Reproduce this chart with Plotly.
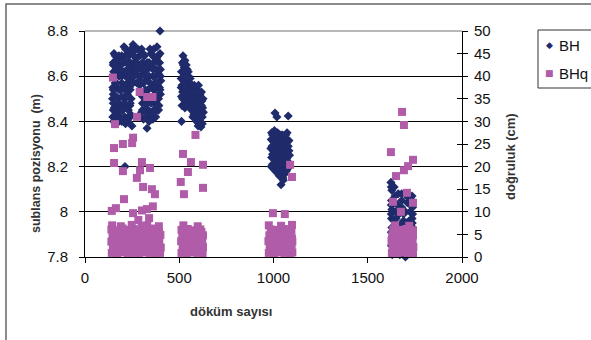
import plotly.graph_objects as go

# ---------------- data ----------------
# BH : sublans pozisyonu (m), left axis -- individually read points
bh_x = [
    398, 207, 154, 255, 382, 398, 308, 240, 270, 225, 290, 180, 165, 150, 147, 148, 146, 150, 148, 152,
    160, 180, 200, 215, 230, 249, 329, 310, 300, 345, 360, 380, 392, 400, 402, 400, 392, 372, 350, 330, 212,
    152, 160, 150, 155, 170, 175, 168, 175, 185, 195, 190, 188, 200, 210, 205, 210, 220, 228, 235, 225,
    222, 238, 243, 245, 250, 255, 240, 265, 275, 285, 295, 270, 300, 310, 320, 315, 305, 318, 330, 335,
    340, 350, 360, 355, 345, 365, 375, 385, 390, 378, 370, 395, 390, 160, 198, 172, 185, 245, 260, 290,
    325, 365, 380,
    520, 517, 527, 512, 532, 542, 510, 522, 540, 550, 510, 522, 538, 555, 512, 525, 540, 552, 565, 515,
    530, 548, 568, 582, 596, 610, 595, 582, 565, 578, 592, 608, 620, 626, 624, 615, 605, 592, 612, 622,
    628, 512, 615, 600, 572, 570, 588, 530,
    1008, 1018, 1078, 1072, 990, 1005, 1022, 1040, 1055, 988, 1000, 1018, 1035, 1058, 1075, 986, 1000,
    1015, 1032, 1050, 1068, 1082, 990, 1005, 1022, 1045, 1062, 1078, 1085, 988, 1002, 1018, 1040, 1058,
    1075, 1030, 1050, 1062, 1040, 1052,
    1623, 1628, 1645, 1662, 1700, 1735, 1626, 1640, 1658, 1680, 1710, 1730, 1628, 1648, 1666, 1700,
    1724, 1738, 1626, 1640, 1690, 1720, 1736, 1628, 1652, 1710, 1734, 1630, 1662, 1700, 1730, 1626,
    1642, 1690, 1720, 1736, 1630, 1670, 1700,
]
bh_y = [
    8.80, 8.73, 8.70, 8.74, 8.73, 8.70, 8.70, 8.71, 8.72, 8.70, 8.69, 8.69, 8.67, 8.65, 8.60, 8.55, 8.50, 8.45, 8.42, 8.40,
    8.39, 8.40, 8.41, 8.39, 8.42, 8.38, 8.37, 8.41, 8.44, 8.43, 8.41, 8.45, 8.47, 8.52, 8.58, 8.63, 8.66, 8.68, 8.70, 8.66, 8.20,
    8.62, 8.57, 8.52, 8.46, 8.44, 8.50, 8.55, 8.61, 8.65, 8.60, 8.54, 8.47, 8.45, 8.50, 8.56, 8.62, 8.66, 8.60, 8.55, 8.52,
    8.46, 8.47, 8.43, 8.50, 8.58, 8.64, 8.66, 8.62, 8.57, 8.60, 8.64, 8.68, 8.57, 8.62, 8.58, 8.52, 8.48, 8.45, 8.48, 8.54,
    8.60, 8.64, 8.60, 8.55, 8.50, 8.48, 8.52, 8.56, 8.61, 8.63, 8.57, 8.55, 8.50, 8.65, 8.68, 8.47, 8.42, 8.62, 8.66, 8.56,
    8.65, 8.66, 8.68,
    8.69, 8.66, 8.64, 8.62, 8.61, 8.63, 8.59, 8.58, 8.58, 8.60, 8.55, 8.54, 8.55, 8.56, 8.51, 8.50, 8.51, 8.52, 8.53, 8.47,
    8.46, 8.48, 8.50, 8.52, 8.54, 8.52, 8.49, 8.47, 8.45, 8.43, 8.45, 8.47, 8.49, 8.50, 8.46, 8.44, 8.42, 8.40, 8.40, 8.42,
    8.44, 8.40, 8.375, 8.38, 8.42, 8.56, 8.55, 8.67,
    8.437, 8.42, 8.424, 8.35, 8.35, 8.36, 8.35, 8.34, 8.33, 8.32, 8.31, 8.31, 8.30, 8.30, 8.31, 8.28, 8.27,
    8.28, 8.26, 8.27, 8.28, 8.27, 8.24, 8.23, 8.22, 8.23, 8.24, 8.22, 8.25, 8.20, 8.19, 8.20, 8.19, 8.20,
    8.19, 8.16, 8.15, 8.17, 8.12, 8.14,
    8.13, 8.095, 8.07, 8.08, 8.075, 8.07, 8.05, 8.04, 8.03, 8.05, 8.04, 8.03, 8.01, 8.00, 7.99, 8.00,
    8.00, 7.99, 7.97, 7.96, 7.96, 7.96, 7.95, 7.93, 7.92, 7.92, 7.91, 7.89, 7.88, 7.87, 7.88, 7.85,
    7.84, 7.83, 7.84, 7.82, 7.81, 7.81, 7.80,
]

# BH : the solid interior of each cluster, read row by row as (y, [x, ...])
bh_fill_rows = [
    (8.72, [215, 245, 280, 300, 345, 365]),
    (8.69, [160, 195, 230, 260, 315, 360, 388]),
    (8.66, [150, 175, 205, 235, 275, 305, 340, 395]),
    (8.63, [165, 190, 225, 270, 300, 330, 362]),
    (8.60, [150, 180, 215, 240, 260, 295, 325, 375, 400]),
    (8.57, [165, 195, 225, 255, 285, 310, 345, 385]),
    (8.54, [150, 180, 210, 240, 320, 365, 398]),
    (8.51, [165, 195, 225, 305, 335, 360, 385]),
    (8.48, [150, 180, 210, 240, 320, 350, 378]),
    (8.45, [160, 195, 230, 305, 335, 365, 390]),
    (8.42, [150, 170, 210, 240, 325, 350, 375]),
    (8.40, [195, 228, 340]),
    (8.65, [522, 537]),
    (8.62, [520, 548]),
    (8.59, [515, 530, 558]),
    (8.56, [515, 530, 545, 562, 580, 602]),
    (8.53, [518, 533, 548, 575, 590, 618]),
    (8.50, [518, 535, 558, 575, 600, 615]),
    (8.47, [522, 540, 558, 570, 590, 602, 618]),
    (8.44, [585, 600, 610]),
    (8.42, [585, 615]),
    (8.39, [605, 622]),
    (8.34, [995, 1012, 1030, 1048, 1065]),
    (8.315, [1008, 1026, 1045, 1067, 1082]),
    (8.29, [992, 1010, 1025, 1042, 1060, 1078]),
    (8.255, [995, 1012, 1040, 1058, 1075]),
    (8.235, [1030, 1050, 1070]),
    (8.21, [995, 1010, 1030, 1048, 1068, 1082]),
    (8.18, [1010, 1025, 1045, 1068]),
    (8.11, [1625, 1640]),
    (8.08, [1680]),
    (8.06, [1720]),
    (8.05, [1735]),
    (8.03, [1625]),
    (8.02, [1680, 1738]),
    (7.99, [1625, 1690]),
    (7.97, [1650, 1735]),
    (7.95, [1705]),
    (7.94, [1670]),
    (7.93, [1738]),
    (7.91, [1625]),
]

# BHq : doğruluk (cm), right axis -- individually read points
bhq_x = [
    148, 159, 290, 330, 358, 276, 154, 201, 255, 250, 154, 201, 302, 292, 345, 275, 308, 355, 371, 207,
    142, 164, 255, 302, 328, 360, 283, 340,
    142, 170, 200, 228, 258, 286, 316, 344, 372, 398,
    148, 178, 206, 236, 264, 294, 322, 352, 380, 402,
    140, 168, 196, 224, 254, 282, 310, 338, 366, 394,
    146, 174, 204, 232, 262, 290, 318, 348, 376, 400,
    140, 172, 200, 230, 258, 288, 320, 350, 380,
    144, 190, 248, 300, 330, 392,
    586, 520, 562, 626, 546, 508, 626, 525,
    512, 540, 568, 596, 624, 518, 546, 574, 602, 626, 510, 538, 566, 594, 622,
    516, 544, 572, 600, 626, 512, 545, 580, 612, 522, 598,
    1088, 1098, 997, 1060,
    975, 1003, 1031, 1059, 1087, 1100, 980, 1008, 1036, 1064, 1092, 973, 1001, 1029, 1057, 1085, 1100,
    978, 1006, 1034, 1062, 1090, 985, 1020, 1055, 1095, 975, 1040, 1098,
    1682, 1692, 1623, 1740, 1714, 1692, 1650, 1708, 1634, 1740, 1676,
    1628, 1656, 1684, 1712, 1740, 1632, 1660, 1688, 1716, 1742, 1626, 1654, 1682, 1710, 1738,
    1630, 1658, 1686, 1714, 1740, 1635, 1670, 1705, 1738, 1645, 1720,
]
bhq_cm = [
    39.7, 29.4, 36.5, 35.4, 35.4, 31.0, 24.1, 25.0, 26.4, 25.2, 20.8, 19.0, 21.0, 19.2, 19.7, 17.5, 15.5, 15.0, 13.9, 12.8,
    10.2, 10.8, 9.7, 10.3, 10.6, 11.2, 8.2, 8.6,
    0.9, 0.8, 1.0, 0.8, 0.9, 0.8, 1.0, 0.9, 0.8, 0.9,
    2.1, 2.3, 2.0, 2.2, 2.1, 2.4, 2.0, 2.2, 2.3, 2.1,
    3.4, 3.6, 3.3, 3.5, 3.4, 3.7, 3.3, 3.5, 3.4, 3.6,
    4.8, 4.6, 5.0, 4.7, 4.9, 4.6, 4.8, 5.0, 4.7, 4.9,
    6.1, 5.9, 6.3, 6.0, 6.2, 5.8, 6.1, 6.3, 6.0,
    7.0, 6.8, 7.1, 6.9, 7.0, 6.8,
    27.0, 22.8, 21.0, 20.4, 18.8, 16.6, 15.3, 13.9,
    0.9, 0.8, 1.0, 0.9, 0.8, 2.2, 2.0, 2.3, 2.1, 2.2, 3.5, 3.4, 3.6, 3.3, 3.5,
    4.8, 5.0, 4.7, 4.9, 4.8, 6.0, 6.2, 5.9, 6.1, 7.0, 6.8,
    20.4, 17.7, 9.7, 9.5,
    0.9, 0.8, 1.0, 0.9, 0.8, 1.0, 2.2, 2.0, 2.3, 2.1, 2.2, 3.5, 3.4, 3.6, 3.3, 3.5, 3.4,
    4.8, 5.0, 4.7, 4.9, 4.8, 6.1, 6.0, 6.2, 5.9, 7.0, 6.9, 7.1,
    32.1, 29.2, 23.2, 21.5, 20.1, 19.2, 17.9, 14.2, 12.2, 12.0, 10.0,
    0.9, 0.8, 1.0, 0.9, 0.8, 2.2, 2.0, 2.3, 2.1, 2.2, 3.5, 3.4, 3.6, 3.3, 3.5,
    4.8, 5.0, 4.7, 4.9, 4.8, 6.1, 6.0, 6.2, 5.9, 7.0, 6.9,
]

# BHq : the solid low band of each cluster, read row by row as (cm, [x, ...])
bhq_fill_rows = [
    (1.5, [156, 186, 214, 244, 272, 302, 330, 360, 388]),
    (2.8, [154, 184, 212, 242, 270, 300, 328, 356, 386]),
    (4.1, [156, 186, 216, 246, 276, 304, 332, 362, 390]),
    (5.5, [152, 186, 216, 246, 276, 306, 334, 362, 392]),
    (1.5, [526, 554, 582, 610]),
    (2.8, [524, 552, 580, 610]),
    (4.1, [524, 554, 584, 614]),
    (5.5, [526, 556, 590, 618]),
    (1.5, [989, 1017, 1045, 1073, 1095]),
    (2.8, [987, 1015, 1043, 1071, 1095]),
    (4.1, [990, 1020, 1048, 1076, 1098]),
    (5.5, [992, 1024, 1058, 1088]),
    (1.5, [1642, 1670, 1698, 1726]),
    (2.8, [1640, 1668, 1696, 1724]),
    (4.1, [1644, 1672, 1700, 1728]),
    (5.5, [1646, 1680, 1712, 1740]),
]

x_ticks = [0, 500, 1000, 1500, 2000]
left_ticks = [7.8, 8.0, 8.2, 8.4, 8.6, 8.8]
right_ticks = [0, 5, 10, 15, 20, 25, 30, 35, 40, 45, 50]

all_bh_x = bh_x + [x for _, xs in bh_fill_rows for x in xs]
all_bh_y = bh_y + [y for y, xs in bh_fill_rows for _ in xs]
all_bhq_x = bhq_x + [x for _, xs in bhq_fill_rows for x in xs]
all_bhq_cm = bhq_cm + [c for c, xs in bhq_fill_rows for _ in xs]

BH_COLOR = "#1f2b6b"
BHQ_COLOR = "#b05ca8"
FONT = "Liberation Sans, Arial, sans-serif"

# ---------------- figure ----------------
W, H = 591, 340
L, T = 85, 31
pw, ph = 377, 226
R, B = W - L - pw, H - T - ph


def px_x(p):  # window pixel -> paper x
    return (p - L) / pw


def px_y(p):  # window pixel -> paper y
    return (T + ph - p) / ph


fig = go.Figure()
fig.add_trace(go.Scatter(
    x=all_bh_x, y=all_bh_y, mode="markers", name="BH", yaxis="y", cliponaxis=False,
    marker=dict(symbol="diamond", size=7, color=BH_COLOR, line=dict(width=0)),
))
fig.add_trace(go.Scatter(
    x=all_bhq_x, y=all_bhq_cm, mode="markers", name="BHq", yaxis="y2", cliponaxis=False,
    marker=dict(symbol="square", size=8, color=BHQ_COLOR, line=dict(width=0)),
))
fig.add_trace(go.Scatter(x=[None], y=[None], yaxis="y3", showlegend=False, hoverinfo="skip"))

tickfont = dict(family=FONT, size=15, color="#111")

fig.update_layout(
    width=W, height=H,
    margin=dict(l=L, r=R, t=T, b=B, autoexpand=False),
    paper_bgcolor="white", plot_bgcolor="white",
    showlegend=False,
    xaxis=dict(
        range=[0, 2000], tickvals=x_ticks, ticks="outside", ticklen=5, tickcolor="black",
        showline=True, linecolor="black", linewidth=1, showgrid=False, zeroline=False,
        tickfont=tickfont, ticklabelstandoff=2,
    ),
    yaxis=dict(
        range=[7.8, 8.8], tickvals=left_ticks, ticks="outside", ticklen=5, tickcolor="black",
        showline=True, linecolor="black", linewidth=1, showgrid=True, gridcolor="black",
        gridwidth=1, zeroline=False, tickfont=tickfont, ticklabelstandoff=8,
    ),
    yaxis2=dict(
        range=[0, 50], tickvals=right_ticks, overlaying="y", side="right", anchor="x",
        ticks="outside", ticklen=5, tickcolor="black", showline=True, linecolor="black",
        linewidth=1, showgrid=False, zeroline=False, tickfont=tickfont, ticklabelstandoff=3,
    ),
    yaxis3=dict(
        range=[0, 50], tickvals=right_ticks, overlaying="y", side="right", anchor="x",
        ticks="inside", ticklen=5, tickcolor="black", showline=False, showgrid=False,
        zeroline=False, showticklabels=False,
    ),
)

# grey top border at 8.8
fig.add_shape(type="line", xref="paper", yref="paper", x0=0, x1=1, y0=1, y1=1,
              line=dict(color="#a0a0a0", width=1.5), layer="between")
# outer chart frame
fig.add_shape(type="rect", xref="paper", yref="paper",
              x0=px_x(6), x1=px_x(640), y0=px_y(400), y1=px_y(4),
              line=dict(color="#666", width=1.5), fillcolor="rgba(0,0,0,0)")
# legend box
fig.add_shape(type="rect", xref="paper", yref="paper",
              x0=px_x(538), x1=px_x(640), y0=px_y(88), y1=px_y(30),
              line=dict(color="#333", width=1), fillcolor="white")

ann = [
    dict(text="<b>sublans pozisyonu\u00a0\u00a0(m)</b>", x=px_x(36), y=px_y(164), textangle=-90,
         font=dict(family=FONT, size=12.5, color="#333")),
    dict(text="<b>doğruluk (cm)</b>", x=px_x(510), y=px_y(157), textangle=-90,
         font=dict(family=FONT, size=13, color="#333")),
    dict(text="<b>döküm sayısı</b>", x=px_x(231), y=px_y(311),
         font=dict(family=FONT, size=13, color="#333")),
    dict(text="◆", x=px_x(549), y=px_y(45), font=dict(family="DejaVu Sans", size=9, color=BH_COLOR)),
    dict(text="■", x=px_x(549), y=px_y(73), font=dict(family="DejaVu Sans", size=9, color=BHQ_COLOR)),
    dict(text="BH", x=px_x(557), y=px_y(45), xanchor="left",
         font=dict(family=FONT, size=15, color="#111")),
    dict(text="BHq", x=px_x(557), y=px_y(73), xanchor="left",
         font=dict(family=FONT, size=15, color="#111")),
]
for a in ann:
    a.setdefault("xanchor", "center")
    fig.add_annotation(xref="paper", yref="paper", yanchor="middle", showarrow=False, **a)

# remove the browser's default 8px page margin so the chart sits at the window corner
fig.write_html("out.html", config={"displayModeBar": False},
               post_script="document.body.style.margin='0';")
